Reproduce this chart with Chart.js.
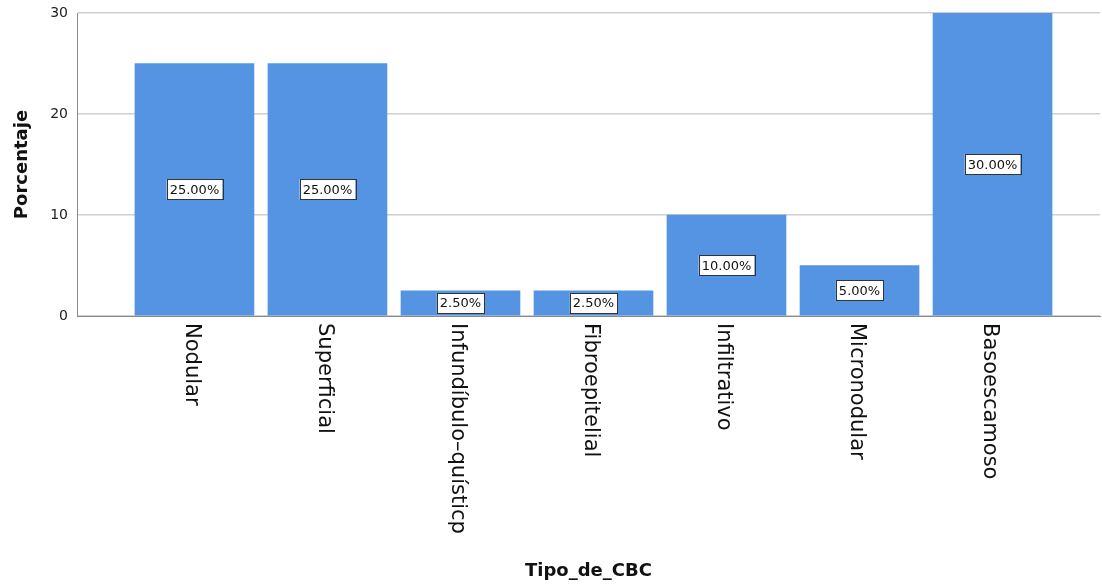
<!DOCTYPE html>
<html>
<head>
<meta charset="utf-8">
<script src="https://cdn.jsdelivr.net/npm/chart.js@4.4.1/dist/chart.umd.min.js"></script>
<style>
  html, body { margin: 0; padding: 0; background: #fff; }
  #wrap { width: 1102px; height: 586px; }
</style>
</head>
<body>
<div id="wrap"><canvas id="cbcChart"></canvas></div>
<script>
// Data
const categories = ['Nodular', 'Superficial', 'Infundíbulo–quísticp', 'Fibroepitelial', 'Infiltrativo', 'Micronodular', 'Basoescamoso'];
const percentages = [25, 25, 2.5, 2.5, 10, 5, 30];
const yTicks = [0, 10, 20, 30];

const barColor = '#5594E3';
const font = '"DejaVu Sans", Verdana, sans-serif';

// Labels in the middle of each bar, in a white box
const barLabels = {
    id: 'barLabels',
    afterDatasetsDraw(chart) {
        const c = chart.ctx;
        const meta = chart.getDatasetMeta(0);
        c.save();
        c.font = '13px ' + font;
        c.textAlign = 'center';
        c.textBaseline = 'middle';
        meta.data.forEach((bar, i) => {
            const text = percentages[i].toFixed(2) + '%';
            const cy = (bar.y + bar.base) / 2;
            const w = c.measureText(text).width + 6;
            const h = 20;
            c.fillStyle = '#fff';
            c.fillRect(bar.x - w / 2, cy - h / 2, w, h);
            c.strokeStyle = '#333';
            c.lineWidth = 1;
            c.strokeRect(Math.round(bar.x - w / 2) + 0.5, Math.round(cy - h / 2) + 0.5, Math.round(w), h);
            c.fillStyle = '#111';
            c.fillText(text, bar.x, cy + 1);
        });
        c.restore();
    }
};

// Category names rotated clockwise, reading top to bottom
const xNames = {
    id: 'xNames',
    afterDraw(chart) {
        const c = chart.ctx;
        const xs = chart.scales.x;
        c.save();
        c.font = '21px ' + font;
        c.fillStyle = '#111';
        c.textAlign = 'left';
        c.textBaseline = 'middle';
        categories.forEach((name, i) => {
            c.save();
            c.translate(xs.getPixelForValue(i) - 3, chart.chartArea.bottom + 7);
            c.rotate(Math.PI / 2);
            c.fillText(name, 0, 0);
            c.restore();
        });
        c.restore();
    }
};

new Chart(document.getElementById('cbcChart'), {
    type: 'bar',
    data: {
        datasets: [{
            data: percentages.map((v, i) => ({ x: i, y: v })),
            backgroundColor: barColor,
            barThickness: 119
        }]
    },
    options: {
        responsive: true,
        maintainAspectRatio: false,
        animation: false,
        layout: { padding: { top: 13, right: 2, left: 0, bottom: 0 } },
        plugins: {
            legend: { display: false },
            tooltip: { enabled: false }
        },
        scales: {
            x: {
                type: 'linear',
                offset: false,
                min: -0.883,
                max: 6.808,
                afterBuildTicks: scale => { scale.ticks = categories.map((c, i) => ({ value: i })); },
                afterFit: scale => { scale.height = 270; },
                grid: { display: false, offset: false },
                border: { display: true, color: '#8a8a8a', width: 1 },
                ticks: { display: false },
                title: {
                    display: true,
                    text: 'Tipo_de_CBC',
                    color: '#111',
                    font: { family: font, size: 18, weight: 'bold' },
                    padding: { top: 0, bottom: 4 }
                }
            },
            y: {
                min: 0,
                max: 30,
                afterBuildTicks: scale => { scale.ticks = yTicks.map(v => ({ value: v })); },
                afterFit: scale => { scale.width = 77; scale.paddingTop = 0; scale.paddingBottom = 0; },
                grid: { color: '#cfcfcf', drawTicks: false, lineWidth: 1.5 },
                border: { display: true, color: '#8a8a8a', width: 1 },
                ticks: {
                    color: '#222',
                    padding: 9,
                    font: { family: font, size: 14 }
                },
                title: {
                    display: true,
                    text: 'Porcentaje',
                    color: '#111',
                    font: { family: font, size: 18, weight: 'bold' },
                    padding: { top: 12, bottom: 0 }
                }
            }
        }
    },
    plugins: [barLabels, xNames]
});
</script>
</body>
</html>
